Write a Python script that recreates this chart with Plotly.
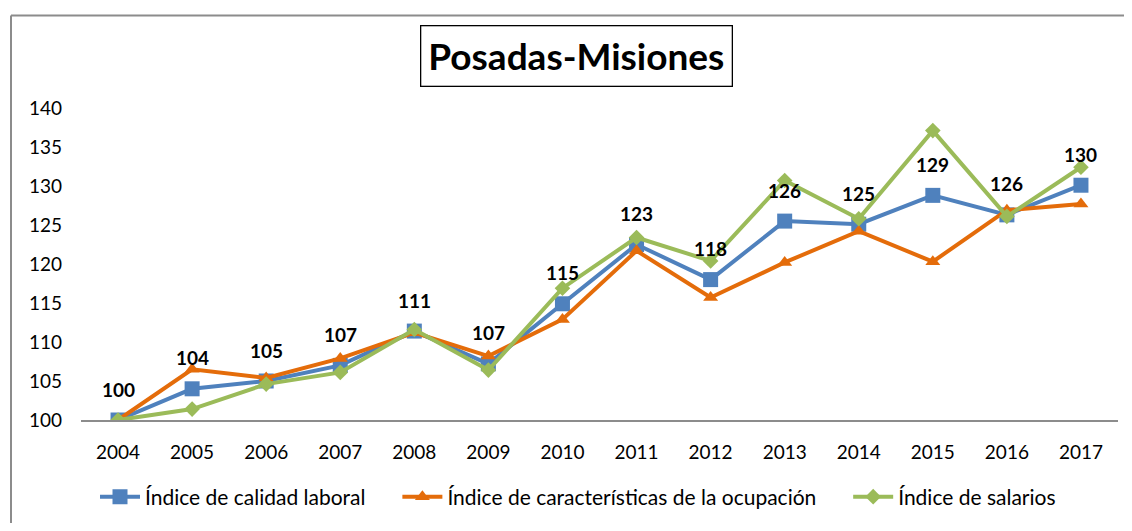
import plotly.graph_objects as go

years = [2004, 2005, 2006, 2007, 2008, 2009, 2010, 2011, 2012, 2013, 2014, 2015, 2016, 2017]
calidad = [100, 104.0, 105.0, 107.0, 111.4, 107.2, 114.9, 122.5, 118.0, 125.5, 125.1, 128.8, 126.3, 130.1]
caracteristicas = [100, 106.5, 105.4, 107.9, 111.2, 108.2, 112.9, 121.7, 115.7, 120.2, 124.2, 120.3, 126.9, 127.7]
salarios = [100, 101.4, 104.6, 106.1, 111.6, 106.4, 116.9, 123.4, 120.4, 130.7, 125.8, 137.1, 126.1, 132.4]
labels = ["100", "104", "105", "107", "111", "107", "115", "123", "118", "126", "125", "129", "126", "130"]
names = ["Índice de calidad laboral", "Índice de características de la ocupación", "Índice de salarios"]
title = "Posadas-Misiones"

FONT = "Lato"
OFF = 8  # page body margin
W, H = 1116, 515
# page coordinates of the plot area
PL, PR, PT, PB = 81, 1118, 108, 428
L, T = PL - OFF, PT - OFF
R = W - (PR - OFF)
B = H - (PB - OFF)
pw, ph = W - L - R, H - T - B

def px(x):  # page x -> paper
    return (x - OFF - L) / pw

def py(y):  # page y -> paper
    return (PB - y) / ph

PAD = "\u00a0" * 5
fig = go.Figure()
fig.add_trace(go.Scatter(x=years, y=calidad, name=names[0] + PAD, mode="lines+markers",
                         line=dict(color="#4F81BD", width=4),
                         marker=dict(symbol="square", size=15, color="#4F81BD")))
fig.add_trace(go.Scatter(x=years, y=caracteristicas, name=names[1] + PAD, mode="lines+markers",
                         line=dict(color="#E46C0A", width=4),
                         marker=dict(symbol="triangle-up", size=13, color="#E46C0A")))
fig.add_trace(go.Scatter(x=years, y=salarios, name=names[2], mode="lines+markers",
                         line=dict(color="#9BBB59", width=4),
                         marker=dict(symbol="diamond", size=12, color="#9BBB59")))

for x, y, t in zip(years, calidad, labels):
    fig.add_annotation(x=x, y=y, text="<b>%s</b>" % t, showarrow=False, yshift=31,
                       font=dict(family=FONT, size=19, color="black"))

fig.add_annotation(x=px(576.5), y=py(54.5), xref="paper", yref="paper", text="<b>%s</b>" % title,
                   xanchor="center", yanchor="middle",
                   showarrow=False, font=dict(family=FONT, size=37, color="black"),
                   bordercolor="black", borderwidth=1.3, borderpad=7, bgcolor="white")

# outer chart frame (left and top edges visible)
fig.add_shape(type="line", xref="paper", yref="paper", x0=px(11), x1=px(11), y0=py(560), y1=py(13),
              line=dict(color="#8C8C8C", width=2))
fig.add_shape(type="line", xref="paper", yref="paper", x0=px(11), x1=px(1160), y0=py(13), y1=py(13),
              line=dict(color="#8C8C8C", width=2))

fig.update_layout(
    width=W, height=H,
    margin=dict(l=L, r=R, t=T, b=B),
    paper_bgcolor="white", plot_bgcolor="white",
    font=dict(family=FONT, size=19, color="black"),
    showlegend=True,
    legend=dict(orientation="h", x=px(95), xanchor="left", y=py(507), yanchor="middle",
                font=dict(family=FONT, size=21, color="black"), itemwidth=40,
                traceorder="normal"),
)
fig.update_xaxes(range=[2003.5, 2017.5], tickvals=years, ticktext=[str(y) for y in years],
                 showgrid=False, zeroline=False, showline=True, linecolor="#8C8C8C", linewidth=2,
                 ticks="", ticklabelstandoff=14, tickfont=dict(family=FONT, size=19))
fig.update_yaxes(range=[100, 140], tickvals=list(range(100, 141, 5)), showgrid=False, zeroline=False,
                 showline=False, ticks="", ticklabelstandoff=18, tickfont=dict(family=FONT, size=19))

fig.write_html("out.html")
